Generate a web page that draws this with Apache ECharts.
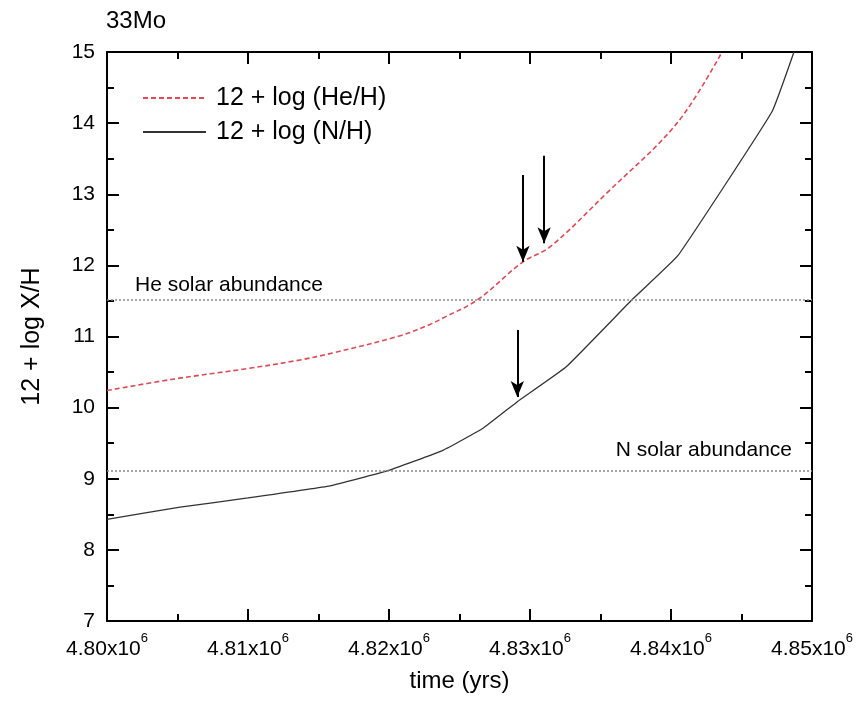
<!DOCTYPE html>
<html>
<head>
<meta charset="utf-8">
<script src="https://cdn.jsdelivr.net/npm/echarts@6/dist/echarts.min.js"></script>
<style>html,body{margin:0;padding:0;background:#fff}#c{width:856px;height:705px}</style>
</head>
<body>
<div id="c"></div>
<script>
// time in years
const timeHe = [4800000, 4804680, 4810000, 4813690, 4816030, 4820780, 4822910, 4823830, 4826310, 4829500, 4831420, 4835460, 4840430, 4843620];
const heVals = [10.24, 10.40, 10.55, 10.67, 10.77, 11.01, 11.17, 11.26, 11.52, 12.05, 12.26, 13.02, 14.00, 15.00];
const timeN = [4800000, 4805180, 4810000, 4815820, 4819860, 4823830, 4826670, 4829080, 4832550, 4837300, 4840500, 4847160, 4848720];
const nVals = [8.43, 8.60, 8.73, 8.90, 9.11, 9.40, 9.71, 10.08, 10.57, 11.53, 12.14, 14.16, 15.00];
const heSolar = 11.52;
const nSolar = 9.11;
const arrowT = [4829500, 4831000, 4829100];
const arrowFrom = [13.27, 13.54, 11.09];
const arrowTo = [12.05, 12.31, 10.15];
const xTicks = [4800000, 4850000, 10000];
const yTicks = [7, 15, 1];
const seriesNames = ['12 + log (He/H)', '12 + log (N/H)'];

const FONT = 'Liberation Sans, Arial, sans-serif';
const chart = echarts.init(document.getElementById('c'), null, {renderer: 'canvas'});

const axisLine = {show: true, onZero: false, lineStyle: {color: '#000', width: 2}};
const axisTick = {show: true, inside: true, length: 12, lineStyle: {color: '#000', width: 2}};
const minorTick = {show: true, splitNumber: 2, length: 7, lineStyle: {color: '#000', width: 2}};

const xBase = {type: 'value', min: xTicks[0], max: xTicks[1], interval: xTicks[2],
  axisLine, axisTick, minorTick, splitLine: {show: false}, minorSplitLine: {show: false}};
const yBase = {type: 'value', min: yTicks[0], max: yTicks[1], interval: yTicks[2],
  axisLine, axisTick, minorTick, splitLine: {show: false}, minorSplitLine: {show: false}};

const arrowLines = arrowT.map((t, i) => [
  {coord: [t, arrowFrom[i]], symbol: 'none', lineStyle: {color: '#000', width: 2, type: 'solid'}, label: {show: false}},
  {coord: [t, arrowTo[i]], symbol: 'arrow', symbolSize: [10, 16]}
]);

chart.setOption({
  animation: false,
  backgroundColor: '#fff',
  title: {text: '33Mo', left: 106, top: 9, padding: 0,
    textStyle: {fontFamily: FONT, fontSize: 24, fontWeight: 'normal', color: '#000'}},
  legend: {
    orient: 'vertical', left: 137, top: 80, itemWidth: 63, itemHeight: 14, itemGap: 8,
    data: seriesNames,
    itemStyle: {opacity: 0, borderWidth: 0},
    textStyle: {fontFamily: FONT, fontSize: 25, color: '#000', lineHeight: 26, padding: [0, 0, 0, 5]}
  },
  grid: {left: 107, right: 44, top: 52, bottom: 84, containLabel: false},
  xAxis: [
    Object.assign({}, xBase, {
      position: 'bottom',
      name: 'time (yrs)', nameLocation: 'middle', nameGap: 48,
      nameTextStyle: {fontFamily: FONT, fontSize: 24, color: '#000'},
      axisLabel: {
        margin: 11,
        formatter: v => '{a|' + (v / 1e6).toFixed(2) + 'x10}{b|6}',
        rich: {
          a: {fontFamily: FONT, fontSize: 21, color: '#000', verticalAlign: 'bottom', lineHeight: 28},
          b: {fontFamily: FONT, fontSize: 13, color: '#000', verticalAlign: 'top', lineHeight: 28}
        }
      }
    }),
    Object.assign({}, xBase, {position: 'top', axisLabel: {show: false}})
  ],
  yAxis: [
    Object.assign({}, yBase, {
      position: 'left',
      name: '12 + log X/H', nameLocation: 'middle', nameGap: 62, nameRotate: 90,
      nameTextStyle: {fontFamily: FONT, fontSize: 25, color: '#000'},
      axisLabel: {margin: 12, fontFamily: FONT, fontSize: 21, color: '#000'}
    }),
    Object.assign({}, yBase, {position: 'right', axisLabel: {show: false}})
  ],
  series: [
    {
      name: seriesNames[0], type: 'line', xAxisIndex: 0, yAxisIndex: 0,
      data: timeHe.map((t, i) => [t, heVals[i]]),
      showSymbol: false, symbol: 'none', clip: true, smooth: 0.35,
      lineStyle: {color: '#dc4a55', width: 1.6, type: [5, 3]},
      itemStyle: {color: '#dc4a55'}
    },
    {
      name: seriesNames[1], type: 'line', xAxisIndex: 0, yAxisIndex: 0,
      data: timeN.map((t, i) => [t, nVals[i]]),
      showSymbol: false, symbol: 'none', clip: true, smooth: 0.1,
      lineStyle: {color: '#333', width: 1.3},
      itemStyle: {color: '#333'},
      markLine: {
        silent: true, animation: false, symbol: ['none', 'none'],
        data: [
          {yAxis: heSolar, symbol: 'none',
            lineStyle: {color: '#888', type: [2, 2], width: 1.5},
            label: {show: true, position: 'insideStartTop', distance: [28, 4], formatter: 'He solar abundance',
              fontFamily: FONT, fontSize: 21, color: '#000'}},
          {yAxis: nSolar, symbol: 'none',
            lineStyle: {color: '#888', type: [2, 2], width: 1.5},
            label: {show: true, position: 'insideEndTop', distance: [20, 10], formatter: 'N solar abundance',
              fontFamily: FONT, fontSize: 21, color: '#000'}}
        ].concat(arrowLines)
      }
    }
  ]
});
</script>
</body>
</html>
